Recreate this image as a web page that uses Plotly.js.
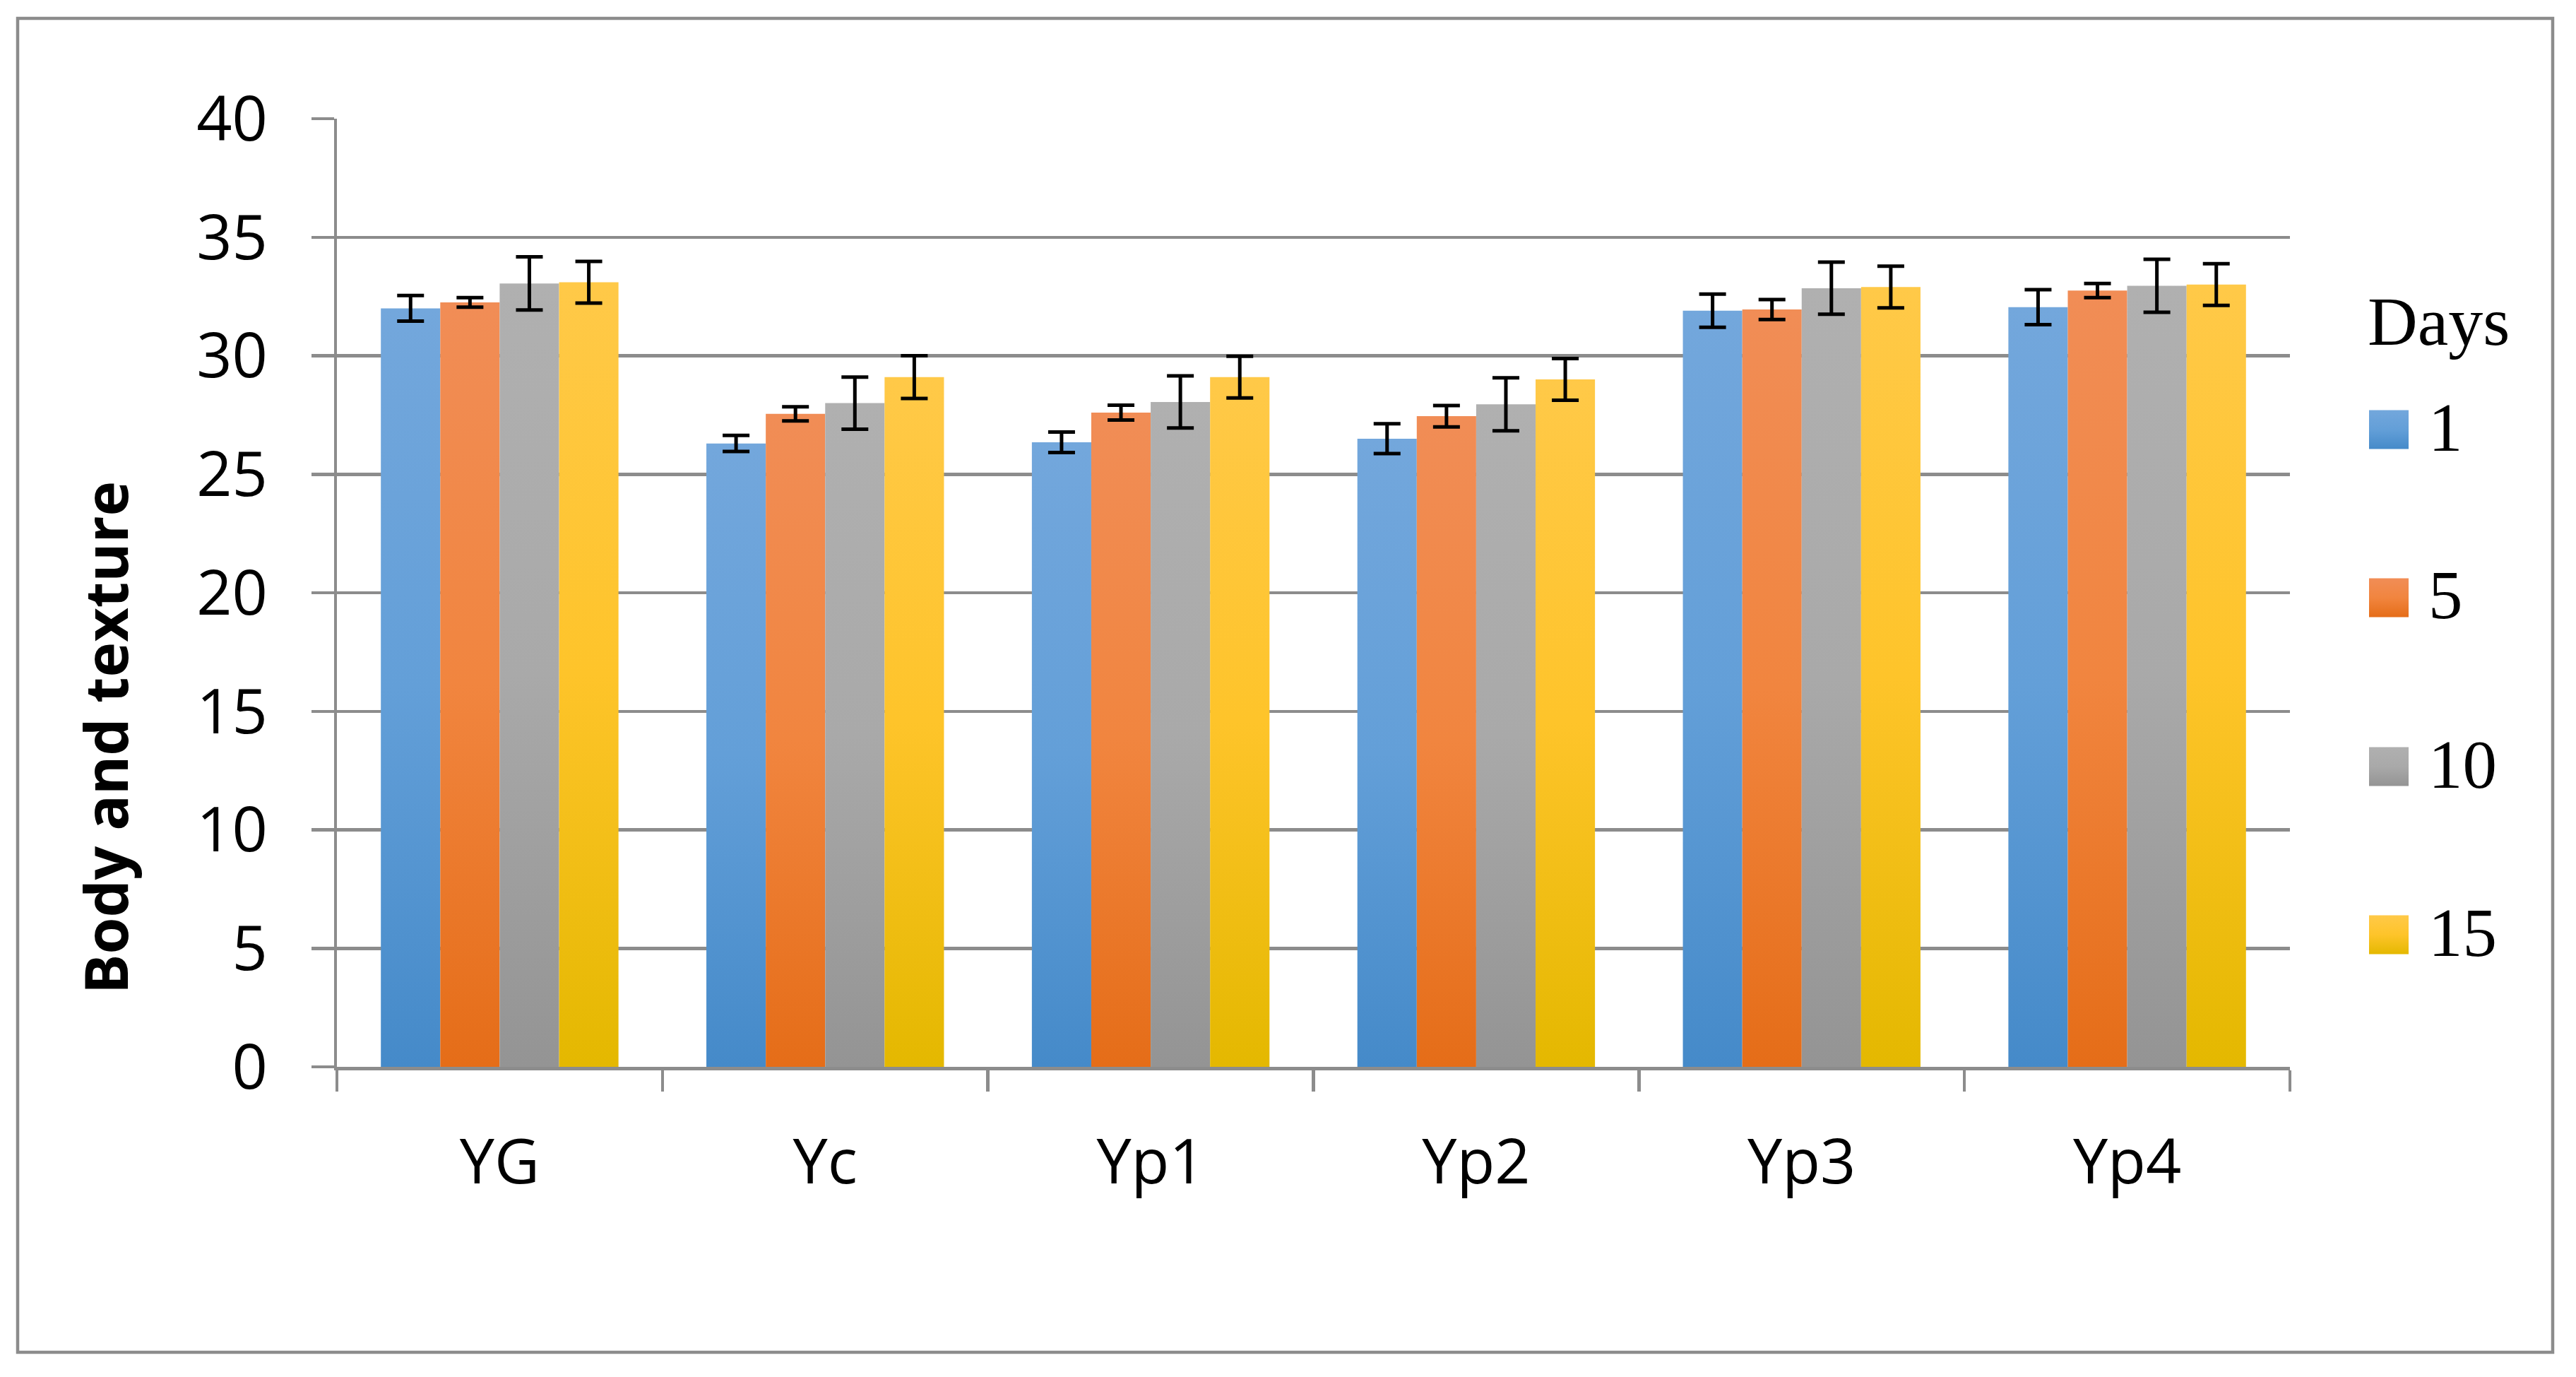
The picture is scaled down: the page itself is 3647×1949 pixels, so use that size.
<!DOCTYPE html>
<html>
<head>
<meta charset="utf-8">
<script src="https://cdn.plot.ly/plotly-3.0.1.min.js"></script>
<style>
html,body{margin:0;padding:0;background:#fff;}
#chart{width:3647px;height:1949px;}
</style>
</head>
<body>
<div id="chart"></div>
<script>
// ---------------- data ----------------
const categories = ['YG', 'Yc', 'Yp1', 'Yp2', 'Yp3', 'Yp4'];
const seriesNames = ['1', '5', '10', '15'];
const legendTitle = 'Days';
const yAxisTitle = 'Body and texture';
const yTickValues = [0, 5, 10, 15, 20, 25, 30, 35, 40];

const day1 = [32.0, 26.3, 26.35, 26.5, 31.9, 32.05];
const day1Err = [0.54, 0.34, 0.43, 0.63, 0.70, 0.74];
const day5 = [32.25, 27.55, 27.6, 27.45, 31.95, 32.75];
const day5Err = [0.20, 0.30, 0.31, 0.45, 0.42, 0.30];
const day10 = [33.05, 28.0, 28.05, 27.95, 32.85, 32.95];
const day10Err = [1.12, 1.10, 1.10, 1.12, 1.10, 1.12];
const day15 = [33.1, 29.1, 29.1, 29.0, 32.9, 33.0];
const day15Err = [0.88, 0.90, 0.88, 0.88, 0.88, 0.88];

// ---------------- styles ----------------
const values = [day1, day5, day10, day15];
const errors = [day1Err, day5Err, day10Err, day15Err];
const baseColors = ['#5f9dd8', '#ef7f3a', '#a6a6a6', '#fcc21e'];
const gradStops = [
  [[0, '#73a7dc'], [0.5, '#639fd8'], [1, '#458ac9']],
  [[0, '#f18d56'], [0.5, '#f1853f'], [1, '#e56d18']],
  [[0, '#b0b0b0'], [0.5, '#a9a9a9'], [1, '#949494']],
  [[0, '#ffc948'], [0.5, '#fec42a'], [1, '#e4b800']]
];
const gray = '#8c8c8c';

const W = 3647, H = 1949, L = 477, R = 405, T = 168, B = 439;
const plotW = W - L - R, plotH = H - T - B;
const pxX = x => (x - L) / plotW;
const pxY = y => (H - B - y) / plotH;

const data = seriesNames.map((name, i) => ({
  type: 'bar',
  name: name,
  x: categories,
  y: values[i],
  marker: {color: baseColors[i], line: {width: 0}},
  error_y: {type: 'data', array: errors[i], visible: true, color: '#000000', thickness: 5, width: 19},
  showlegend: false,
  hoverinfo: 'skip'
}));

const shapes = [{
  type: 'rect', xref: 'paper', yref: 'paper',
  x0: pxX(25), x1: pxX(3614), y0: pxY(1914), y1: pxY(26),
  line: {color: gray, width: 4.5}, fillcolor: 'rgba(0,0,0,0)', layer: 'below'
}];
const annotations = [{
  xref: 'paper', yref: 'paper', x: pxX(148), y: pxY(1044),
  xanchor: 'center', yanchor: 'middle', textangle: -90, showarrow: false,
  text: '<b>' + yAxisTitle + '</b>',
  font: {family: 'Open Sans', size: 84, color: '#000000'}
}, {
  xref: 'paper', yref: 'paper', x: pxX(3350), y: pxY(455),
  xanchor: 'left', yanchor: 'middle', showarrow: false,
  text: legendTitle,
  font: {family: 'Liberation Serif', size: 98, color: '#000000'}
}];
const swatchCenters = [608, 846, 1085, 1323];
const swatchIndex = {};
seriesNames.forEach((name, i) => {
  const c = swatchCenters[i];
  swatchIndex[shapes.length] = i;
  shapes.push({
    type: 'rect', xref: 'paper', yref: 'paper',
    x0: pxX(3354), x1: pxX(3410), y0: pxY(c + 27.5), y1: pxY(c - 27.5),
    line: {width: 0}, fillcolor: baseColors[i]
  });
  annotations.push({
    xref: 'paper', yref: 'paper', x: pxX(3436), y: pxY(c - 3),
    xanchor: 'left', yanchor: 'middle', showarrow: false,
    text: name,
    font: {family: 'Liberation Serif', size: 97, color: '#000000'}
  });
});

const layout = {
  width: W, height: H,
  margin: {l: L, r: R, t: T, b: B, pad: 0},
  paper_bgcolor: '#ffffff', plot_bgcolor: '#ffffff',
  barmode: 'group', bargap: 0.27, bargroupgap: 0,
  showlegend: false,
  xaxis: {
    type: 'category', showgrid: false, zeroline: false,
    showline: true, linecolor: gray, linewidth: 4.5,
    ticks: 'outside', ticklen: 30, tickwidth: 4.5, tickcolor: gray,
    tickson: 'boundaries', ticklabelstandoff: 55,
    tickfont: {family: 'Open Sans', size: 88, color: '#000000'}
  },
  yaxis: {
    range: [0, 40], tickmode: 'array', tickvals: yTickValues,
    showgrid: true, gridcolor: gray, gridwidth: 4.5, zeroline: false,
    showline: true, linecolor: gray, linewidth: 4.5,
    ticks: 'outside', ticklen: 32, tickwidth: 4.5, tickcolor: gray,
    ticklabelstandoff: 44,
    tickfont: {family: 'Open Sans', size: 88, color: '#000000'}
  },
  shapes: shapes,
  annotations: annotations
};

Plotly.newPlot('chart', data, layout, {staticPlot: true, displayModeBar: false}).then(gd => {
  try {
    const ns = 'http://www.w3.org/2000/svg';
    const svg = gd.querySelector('svg.main-svg');
    let defs = svg.querySelector('defs');
    if (!defs) { defs = document.createElementNS(ns, 'defs'); svg.insertBefore(defs, svg.firstChild); }
    gradStops.forEach((stops, i) => {
      const lg = document.createElementNS(ns, 'linearGradient');
      lg.setAttribute('id', 'barGrad' + i);
      lg.setAttribute('x1', '0'); lg.setAttribute('y1', '0');
      lg.setAttribute('x2', '0'); lg.setAttribute('y2', '1');
      stops.forEach(s => {
        const st = document.createElementNS(ns, 'stop');
        st.setAttribute('offset', s[0]);
        st.setAttribute('stop-color', s[1]);
        lg.appendChild(st);
      });
      defs.appendChild(lg);
    });
    gd.querySelectorAll('.barlayer .trace').forEach((tr, i) => {
      tr.querySelectorAll('.point path').forEach(p => { p.style.fill = 'url(#barGrad' + i + ')'; });
    });
    gd.querySelectorAll('.shapelayer path').forEach(p => {
      const idx = p.getAttribute('data-index');
      if (idx !== null && swatchIndex[idx] !== undefined) {
        p.style.fill = 'url(#barGrad' + swatchIndex[idx] + ')';
      }
    });
  } catch (e) { /* keep solid colours */ }
});
</script>
</body>
</html>
